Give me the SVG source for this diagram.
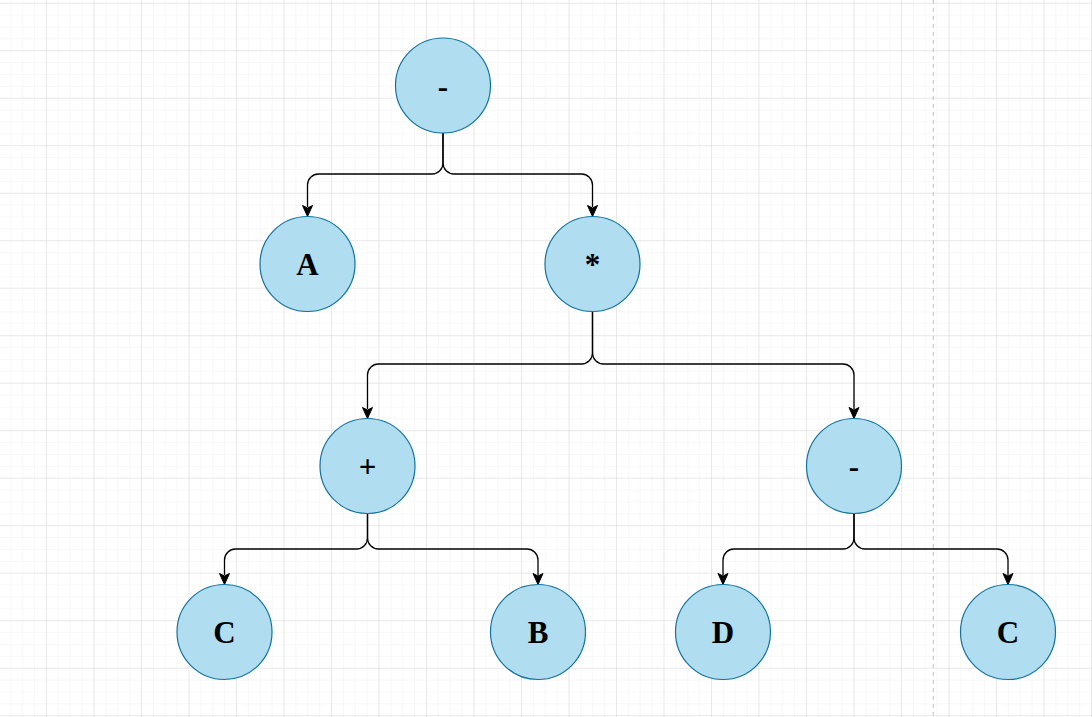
<svg xmlns="http://www.w3.org/2000/svg" width="1092" height="717" viewBox="0 0 1092 717">
<style>
.node circle{fill:#b1ddf0;stroke:#10739e;stroke-width:1.2}
.node text{font-family:"Liberation Serif","Times New Roman",serif;font-weight:bold;font-size:31px;text-anchor:middle;fill:#000}
.edge{fill:none;stroke:#000;stroke-width:1.3}
.head{fill:#000;stroke:#000;stroke-width:1}
</style>
<defs>
<pattern id="minor" patternUnits="userSpaceOnUse" x="-1.5" y="2.7" width="11.875" height="11.875">
<path d="M0 0H11.875M0 0V11.875" fill="none" stroke="#f2f2f2" stroke-width="1"/>
</pattern>
<pattern id="major" patternUnits="userSpaceOnUse" x="-1.5" y="2.7" width="47.5" height="47.5">
<path d="M0 0H47.5M0 0V47.5" fill="none" stroke="#dadada" stroke-width="1"/>
</pattern>
</defs>
<rect width="1092" height="717" fill="#ffffff"/>
<rect width="1092" height="717" fill="url(#minor)"/>
<rect width="1092" height="717" fill="url(#major)"/>
<line x1="933.3" y1="0" x2="933.3" y2="717" stroke="#c4c4c4" stroke-width="1" stroke-dasharray="4 4"/>
<g id="connectors">
<path class="edge" d="M443 133V163A11 11 0 0 1 432 174H318.5A11 11 0 0 0 307.5 185V207"/>
<path class="head" d="M307.5 216.5L302.5 205.5L307.5 208L312.5 205.5Z"/>
<path class="edge" d="M443 133V163A11 11 0 0 0 454 174H581.5A11 11 0 0 1 592.5 185V207"/>
<path class="head" d="M592.5 216.5L587.5 205.5L592.5 208L597.5 205.5Z"/>
<path class="edge" d="M592.5 312V353A11 11 0 0 1 581.5 364H378.5A11 11 0 0 0 367.5 375V409"/>
<path class="head" d="M367.5 418.5L362.5 407.5L367.5 410L372.5 407.5Z"/>
<path class="edge" d="M592.5 312V353A11 11 0 0 0 603.5 364H843A11 11 0 0 1 854 375V409"/>
<path class="head" d="M854 418.5L849 407.5L854 410L859 407.5Z"/>
<path class="edge" d="M367.5 513.5V538A11 11 0 0 1 356.5 549H235.5A11 11 0 0 0 224.5 560V575"/>
<path class="head" d="M224.5 584.5L219.5 573.5L224.5 576L229.5 573.5Z"/>
<path class="edge" d="M367.5 513.5V538A11 11 0 0 0 378.5 549H527A11 11 0 0 1 538 560V575"/>
<path class="head" d="M538 584.5L533 573.5L538 576L543 573.5Z"/>
<path class="edge" d="M854 513.5V538A11 11 0 0 1 843 549H734A11 11 0 0 0 723 560V575"/>
<path class="head" d="M723 584.5L718 573.5L723 576L728 573.5Z"/>
<path class="edge" d="M854 513.5V538A11 11 0 0 0 865 549H997A11 11 0 0 1 1008 560V575"/>
<path class="head" d="M1008 584.5L1003 573.5L1008 576L1013 573.5Z"/>
</g>
<g id="n-root" class="node"><circle cx="443" cy="85.5" r="47.5"/><text x="443" y="96.5">-</text></g>
<g id="n-A" class="node"><circle cx="307.5" cy="264" r="47.5"/><text x="307.5" y="275">A</text></g>
<g id="n-mul" class="node"><circle cx="592.5" cy="264" r="47.5"/><text x="592.5" y="275">*</text></g>
<g id="n-plus" class="node"><circle cx="367.5" cy="466" r="47.5"/><text x="367.5" y="477">+</text></g>
<g id="n-minus" class="node"><circle cx="854" cy="466" r="47.5"/><text x="854" y="477">-</text></g>
<g id="n-C1" class="node"><circle cx="224.5" cy="632" r="47.5"/><text x="224.5" y="643">C</text></g>
<g id="n-B" class="node"><circle cx="538" cy="632" r="47.5"/><text x="538" y="643">B</text></g>
<g id="n-D" class="node"><circle cx="723" cy="632" r="47.5"/><text x="723" y="643">D</text></g>
<g id="n-C2" class="node"><circle cx="1008" cy="632" r="47.5"/><text x="1008" y="643">C</text></g>
</svg>
